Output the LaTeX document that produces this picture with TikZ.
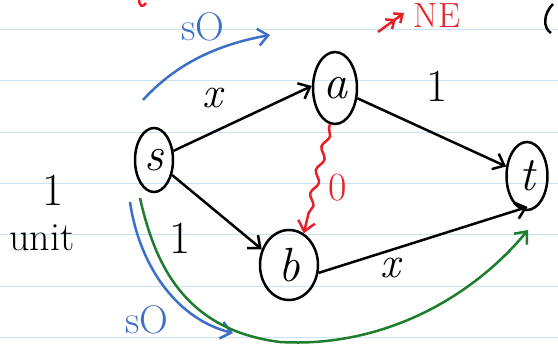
\documentclass[tikz,border=0pt]{standalone}
\usepackage{fontspec}
\usetikzlibrary{arrows.meta,shapes.geometric,decorations.pathmorphing}
\definecolor{paperline}{RGB}{200,228,245}
\definecolor{penred}{RGB}{232,32,40}
\definecolor{penblue}{RGB}{60,112,200}
\definecolor{pengreen}{RGB}{30,125,45}
\tikzset{
  vert/.style={ellipse, draw, line width=2.5pt, inner sep=0pt, font=\fontsize{48}{50}\selectfont\itshape},
  barb/.style={-{Straight Barb[length=10pt,width=17pt]}},
  edge/.style={draw, line width=2.5pt, barb},
  lab/.style={font=\fontsize{46}{50}\selectfont, inner sep=0pt},
  labx/.style={font=\fontsize{44}{48}\selectfont\itshape, inner sep=0pt},
  redpen/.style={draw=penred, line width=2.5pt},
  bluepen/.style={draw=penblue, line width=2.5pt},
  greenpen/.style={draw=pengreen, line width=2.5pt},
  note/.style={font=\fontsize{40}{44}\selectfont, inner sep=0pt},
  smallnote/.style={font=\fontsize{35}{38}\selectfont, inner sep=0pt}
}
\begin{document}
\begin{tikzpicture}[x=1pt,y=-1pt]
\useasboundingbox (0,0) rectangle (558,351);
\fill[white] (0,0) rectangle (558,351);
\foreach \yy in {29,80.5,132,183,234.5,286,337}
  \draw[paperline, line width=0.8pt] (0,\yy) -- (558,\yy);

% vertices
\node[vert, minimum width=38pt, minimum height=64pt] (s) at (154,160) {s};
\node[vert, minimum width=44pt, minimum height=72pt] (a) at (335,88) {a};
\node[vert, minimum width=58pt, minimum height=70pt] (b) at (289,265) {b};
\node[vert, minimum width=41pt, minimum height=68pt] (t) at (527,176) {t};

% edges
\draw[edge] (s) -- (a.175);
\draw[edge] (s) -- (b.150);
\draw[edge] (a) -- (t);
\draw[edge, shorten >=-8pt] (b.-15) -- (t.258);

% labels
\node[labx] (lx1) at (212,98) {x};
\node[lab] (l1a) at (437,86) {1};
\node[lab] (l1b) at (180,238) {1};
\node[labx] (lx2) at (390,268) {x};
\node[lab] (lone) at (53,190) {1};
\node[note] (unit) at (42,238) {unit};

% red zero-weight wavy arrow a -> b
\draw[redpen, barb, decorate, decoration={snake, amplitude=3pt, segment length=24pt, pre length=4pt, post length=12pt}] (a.262) -- (b.65);
\node[note, text=penred] (zero) at (338,188) {0};

% red NE mark
\coordinate (ne0) at (378,32);
\coordinate (ne1) at (404,13);
\draw[redpen, -{Straight Barb[length=7pt,width=12pt]Straight Barb[length=7pt,width=12pt]}] (ne0) -- (ne1);
\node[smallnote, text=penred] (NE) at (437,16) {NE};

% red partial mark at top
\draw[redpen] (139,0) .. controls (139,6) and (143,8) .. (146,3);
% black bracket at right edge
\draw[line width=2.5pt] (553,4) .. controls (543,14) and (543,28) .. (551,33);

% blue upper arrow with label
\coordinate (bu0) at (143,100);
\coordinate (bu1) at (270,35);
\draw[bluepen, barb] (bu0) .. controls (175,65) and (215,45) .. (bu1);
\node[note, text=penblue] (so1) at (203,27) {sO};

% blue lower arrow with label
\coordinate (bl0) at (130,202);
\coordinate (bl1) at (233,333);
\draw[bluepen, barb] (bl0) .. controls (140,270) and (180,320) .. (bl1);
\node[note, text=penblue] (so2) at (147,320) {sO};

% green path s -> t
\coordinate (g0) at (140,198);
\coordinate (gm) at (280,342);
\coordinate (g1) at (528,230);
\draw[greenpen, barb] (g0) .. controls (155,265) and (185,330) .. (gm) .. controls (380,348) and (470,300) .. (g1);
\end{tikzpicture}
\end{document}
